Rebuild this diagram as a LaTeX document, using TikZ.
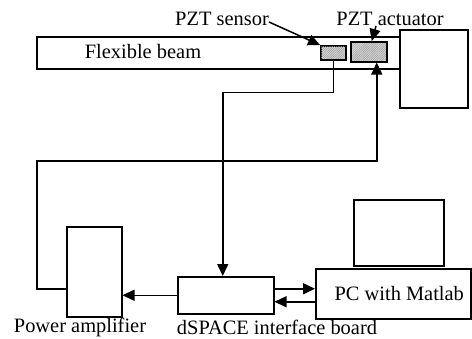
\documentclass[tikz,border=0pt]{standalone}
\usepackage{fontspec}
\setmainfont{Liberation Serif}
\usetikzlibrary{arrows.meta,patterns.meta}

\tikzset{
  box/.style={draw, line width=1.5bp, inner sep=0pt, anchor=north west},
  pzt/.style={box, fill=gray!25, pattern={Lines[angle=45,distance=1.6bp,line width=0.5bp]}, pattern color=gray!80},
  wire/.style={line width=1.5bp},
  sig/.style={wire, -{Triangle[length=12bp,width=11bp]}},
  lbl/.style={font=\fontsize{20.5}{22}\selectfont, inner sep=0pt}
}

\begin{document}
\begin{tikzpicture}[x=1bp, y=-1bp]
    \useasboundingbox (0,0) rectangle (472,338);

    % Balken und Einspannung
    \node[box, minimum width=363bp, minimum height=32bp] (beam) at (36,36) {};
    \node[box, fill=white, minimum width=68bp, minimum height=78bp] (clamp) at (399,29) {};
    \node[lbl] (beamlbl) at (143,52) {Flexible beam};

    % Piezo-Elemente
    \node[box, fill=gray!30, minimum width=25bp, minimum height=14bp] (sensor) at (320,45) {};
    \node[pzt, minimum width=25bp, minimum height=14bp] at (320,45) {};
    \node[box, fill=gray!30, minimum width=36bp, minimum height=20bp] (act) at (350,41) {};
    \node[pzt, minimum width=36bp, minimum height=20bp] at (350,41) {};

    \node[lbl, anchor=east] (senslbl) at (269,19) {PZT sensor};
    \node[lbl] (actlbl) at (390,19) {PZT actuator};
    \draw[sig] ([yshift=-3bp]senslbl.east) -- (sensor.north west);
    \draw[sig] ([xshift=-14bp]actlbl.south) -- ([xshift=3bp]act.north);

    % Geraete unten
    \node[box, minimum width=55bp, minimum height=90bp] (amp) at (66,226) {};
    \node[box, minimum width=96bp, minimum height=37bp] (dspace) at (177,276) {};
    \node[box, minimum width=155bp, minimum height=50bp, font=\fontsize{20.5}{22}\selectfont] (pc) at (315,268) {\hspace*{12bp}PC with Matlab};
    \node[box, minimum width=90bp, minimum height=66bp] (screen) at (353,199) {};

    \node[lbl] (amplbl) at (80,327) {Power amplifier};
    \node[lbl] (dslbl) at (277,327) {dSPACE interface board};

    % Signalwege
    \draw[sig] (sensor.south) -- ++(0,32) -| ([xshift=-3bp]dspace.north);
    \draw[sig] ([yshift=-17bp]amp.west) -| (37,161) -| ([xshift=8bp]act.south);
    \draw[sig] (dspace.west) -- (dspace.west -| amp.east);
    \coordinate (dtx) at ([yshift=6.5bp]dspace.east);
    \coordinate (drx) at ([yshift=-6.5bp]dspace.east);
    \draw[sig] (dtx) -- (dtx -| pc.west);
    \draw[sig] (drx -| pc.west) -- (drx);
\end{tikzpicture}
\end{document}
